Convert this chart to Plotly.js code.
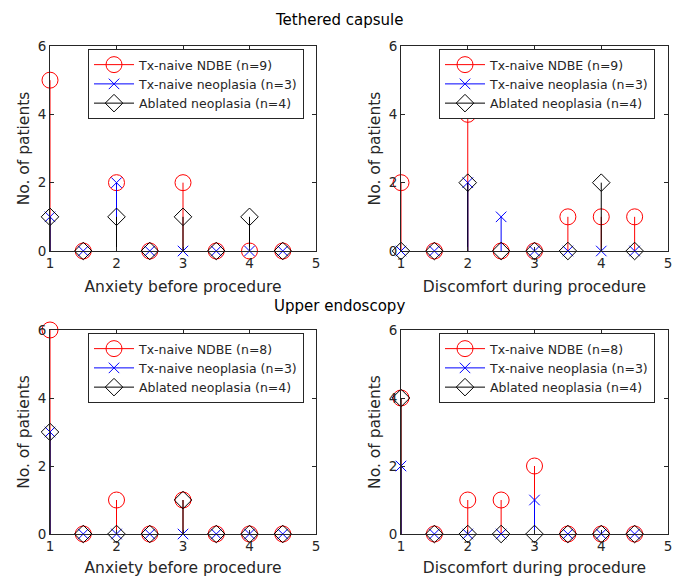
<!DOCTYPE html>
<html>
<head>
<meta charset="utf-8">
<script src="https://cdn.plot.ly/plotly-3.0.1.min.js"></script>
<style>html,body{margin:0;padding:0;background:#fff}#plot{width:678px;height:577px}</style>
</head>
<body>
<div id="plot"></div>
<script>
// Score levels (x positions of stems)
const levels = [1, 1.5, 2, 2.5, 3, 3.5, 4, 4.5];

// Tethered capsule – anxiety before procedure
const tcAnxNDBE = [5, 0, 2, 0, 2, 0, 0, 0];
const tcAnxNeo  = [1, 0, 2, 0, 0, 0, 0, 0];
const tcAnxAbl  = [1, 0, 1, 0, 1, 0, 1, 0];
// Tethered capsule – discomfort during procedure
const tcDisNDBE = [2, 0, 4, 0, 0, 1, 1, 1];
const tcDisNeo  = [0, 0, 2, 1, 0, 0, 0, 0];
const tcDisAbl  = [0, 0, 2, 0, 0, 0, 2, 0];
// Upper endoscopy – anxiety before procedure
const ueAnxNDBE = [6, 0, 1, 0, 1, 0, 0, 0];
const ueAnxNeo  = [3, 0, 0, 0, 0, 0, 0, 0];
const ueAnxAbl  = [3, 0, 0, 0, 1, 0, 0, 0];
// Upper endoscopy – discomfort during procedure
const ueDisNDBE = [4, 0, 1, 1, 2, 0, 0, 0];
const ueDisNeo  = [2, 0, 0, 0, 1, 0, 0, 0];
const ueDisAbl  = [4, 0, 0, 0, 0, 0, 0, 0];

const tcNames = ['Tx-naive NDBE (n=9)', 'Tx-naive neoplasia (n=3)', 'Ablated neoplasia (n=4)'];
const ueNames = ['Tx-naive NDBE (n=8)', 'Tx-naive neoplasia (n=3)', 'Ablated neoplasia (n=4)'];
const xTitles = ['Anxiety before procedure', 'Discomfort during procedure', 'Anxiety before procedure', 'Discomfort during procedure'];
const panelTitles = ['Tethered capsule', 'Upper endoscopy'];
const yTitle = 'No. of patients';

const styles = [
  {color: '#ff0000', symbol: 'circle-open', size: 16},
  {color: '#0000ff', symbol: 'x-thin-open', size: 10.5},
  {color: '#000000', symbol: 'diamond-open', size: 13.5}
];

const panels = [
  {series: [tcAnxNDBE, tcAnxNeo, tcAnxAbl], names: tcNames, xa: 'x', ya: 'y', legend: 'legend'},
  {series: [tcDisNDBE, tcDisNeo, tcDisAbl], names: tcNames, xa: 'x2', ya: 'y2', legend: 'legend2'},
  {series: [ueAnxNDBE, ueAnxNeo, ueAnxAbl], names: ueNames, xa: 'x3', ya: 'y3', legend: 'legend3'},
  {series: [ueDisNDBE, ueDisNeo, ueDisAbl], names: ueNames, xa: 'x4', ya: 'y4', legend: 'legend4'}
];

const traces = [];
panels.forEach((p, pi) => {
  p.series.forEach((vals, si) => {
    const st = styles[si];
    const sx = [], sy = [], mx = [], my = [];
    levels.forEach((lv, i) => {
      sx.push(lv, lv, null); sy.push(0, vals[i], null);
      mx.push(lv, null); my.push(vals[i], null);
    });
    traces.push({
      x: sx, y: sy, type: 'scatter', mode: 'lines', xaxis: p.xa, yaxis: p.ya,
      line: {color: st.color, width: 1}, showlegend: false, hoverinfo: 'skip', cliponaxis: false
    });
    traces.push({
      x: mx, y: my, type: 'scatter', mode: 'lines+markers', xaxis: p.xa, yaxis: p.ya,
      name: p.names[si], legend: p.legend, connectgaps: false, cliponaxis: false,
      line: {color: st.color, width: 1},
      marker: {symbol: st.symbol, size: st.size, color: st.color, line: {color: st.color, width: 1}}
    });
  });
});

const W = 678, H = 577;
const colL = [50 / W, 316 / W], colR = [401 / W, 668 / W];
const rowT = [1 - 251 / H, 1 - 46 / H], rowB = [1 - 534 / H, 1 - 330 / H];
const axColor = '#262626';
const tickFont = {family: 'DejaVu Sans, sans-serif', size: 13.5, color: axColor};
const titleFont = {family: 'DejaVu Sans, sans-serif', size: 15.5, color: axColor};

function xax(domain, anchor, title) {
  return {domain: domain, anchor: anchor, range: [1, 5], tickvals: [1, 2, 3, 4, 5],
    ticks: 'inside', ticklen: 4, tickcolor: axColor, mirror: 'allticks', showline: true,
    linecolor: axColor, linewidth: 1, showgrid: false, zeroline: false, tickfont: tickFont,
    title: {text: title, font: titleFont, standoff: 10}, automargin: false, fixedrange: true};
}
function yax(domain, anchor) {
  return {domain: domain, anchor: anchor, range: [0, 6], tickvals: [0, 2, 4, 6],
    ticks: 'inside', ticklen: 4, tickcolor: axColor, mirror: 'allticks', showline: true,
    linecolor: axColor, linewidth: 1, showgrid: false, zeroline: true, zerolinecolor: '#000000',
    zerolinewidth: 1, tickfont: tickFont,
    title: {text: yTitle, font: titleFont, standoff: 4}, automargin: false, fixedrange: true};
}
function leg(x, y) {
  return {x: x, y: y, xanchor: 'left', yanchor: 'top', bgcolor: '#ffffff',
    bordercolor: '#262626', borderwidth: 1, font: {family: 'DejaVu Sans, sans-serif', size: 12.5, color: axColor},
    itemwidth: 40, tracegroupgap: 0};
}

const layout = {
  width: W, height: H, margin: {l: 0, r: 0, t: 0, b: 0},
  paper_bgcolor: '#ffffff', plot_bgcolor: '#ffffff',
  font: {family: 'DejaVu Sans, sans-serif', color: axColor},
  xaxis: xax(colL, 'y', xTitles[0]), yaxis: yax(rowT, 'x'),
  xaxis2: xax(colR, 'y2', xTitles[1]), yaxis2: yax(rowT, 'x2'),
  xaxis3: xax(colL, 'y3', xTitles[2]), yaxis3: yax(rowB, 'x3'),
  xaxis4: xax(colR, 'y4', xTitles[3]), yaxis4: yax(rowB, 'x4'),
  legend: leg(88 / W, 1 - 49 / H), legend2: leg(439 / W, 1 - 49 / H),
  legend3: leg(88 / W, 1 - 333 / H), legend4: leg(439 / W, 1 - 333 / H),
  annotations: [
    {text: panelTitles[0], xref: 'paper', yref: 'paper', x: 339 / W, y: 1 - 20 / H, showarrow: false,
     xanchor: 'center', yanchor: 'middle', font: {family: 'DejaVu Sans, sans-serif', size: 15, color: '#000000'}},
    {text: panelTitles[1], xref: 'paper', yref: 'paper', x: 339 / W, y: 1 - 306 / H, showarrow: false,
     xanchor: 'center', yanchor: 'middle', font: {family: 'DejaVu Sans, sans-serif', size: 15, color: '#000000'}}
  ]
};

Plotly.newPlot('plot', traces, layout, {displayModeBar: false, staticPlot: true});
</script>
</body>
</html>
